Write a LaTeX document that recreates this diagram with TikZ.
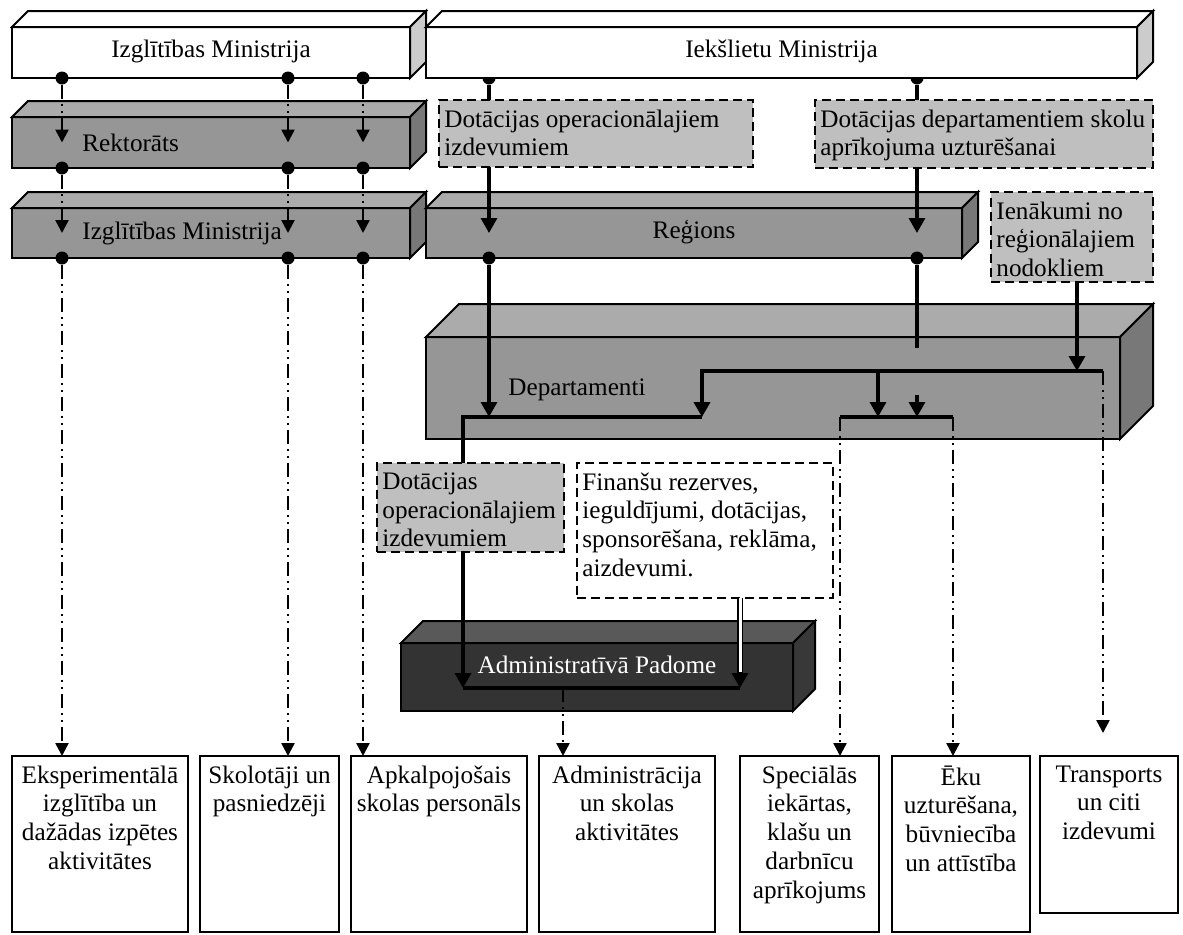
\documentclass[tikz,border=0pt]{standalone}
\usepackage{fontspec}
\setmainfont{Liberation Serif}
\usetikzlibrary{arrows.meta,fit}
\pgfdeclarelayer{bg}
\pgfsetlayers{bg,main}
\definecolor{slabfront}{gray}{0.59}
\definecolor{slabtop}{gray}{0.67}
\definecolor{slabside}{gray}{0.47}
\definecolor{whiteside}{gray}{0.8}
\definecolor{darkfront}{gray}{0.2}
\definecolor{darktop}{gray}{0.35}
\definecolor{darkside}{gray}{0.22}
\definecolor{notefill}{gray}{0.75}
% top and side face of a slab: node, depth, top colour, side colour
\newcommand{\slabfaces}[4]{%
	\filldraw[line width=1pt, fill=#3] (#1.north west) -- ++(#2,-#2) -- ([shift={(#2,-#2)}]#1.north east) -- (#1.north east) -- cycle;
	\filldraw[line width=1pt, fill=#4] (#1.north east) -- ++(#2,-#2) -- ([shift={(#2,-#2)}]#1.south east) -- (#1.south east) -- cycle;}

\begin{document}
\begin{tikzpicture}[x=0.5pt,y=-0.5pt,
	every node/.style={font=\fontsize{12.6}{14.4}\selectfont},
	slab/.style={draw, line width=1pt, inner sep=0pt, outer sep=0pt},
	note/.style={draw, line width=1pt, dash pattern=on 4.5pt off 2.5pt, fill=notefill, inner sep=0pt, outer sep=0pt},
	cell/.style={draw, line width=1pt, inner sep=0pt, outer sep=0pt},
	lefttext/.style={anchor=west, inner xsep=0pt},
	toptext/.style={anchor=north, inner ysep=4.8pt, execute at begin node=\strut},
	notetext/.style={anchor=north west, align=left, inner xsep=2.5pt, inner ysep=4.6pt, execute at begin node=\strut},
	celltext/.style={anchor=north, align=center, inner ysep=4.6pt, execute at begin node=\strut},
	dot/.style={circle, fill, inner sep=0pt, minimum size=6.5pt},
	dd/.style={line width=1.2pt, dash pattern=on 7pt off 2.5pt on 1pt off 2.5pt on 1pt off 2.5pt, -{Triangle[length=6.5pt,width=6.5pt]}},
	sline/.style={line width=1.6pt},
	sa/.style={line width=1.6pt, -{Triangle[length=7.5pt,width=8pt]}},
	bar/.style={line width=2.3pt}]
	\useasboundingbox (0,0) rectangle (1183,934);

	\begin{pgfonlayer}{bg}
		\node[dot] (s1) at (489,78) {};
		\node[dot] (s2) at (917,78) {};
	\end{pgfonlayer}

	\node[slab, fill=white, fit={(12,27) (410,78)}, label={[toptext]north:Izglītības Ministrija}] (IM) {};
	\slabfaces{IM}{16}{white}{whiteside}
	\node[slab, fill=white, fit={(426,27) (1137,78)}, label={[toptext]north:Iekšlietu Ministrija}] (IeM) {};
	\slabfaces{IeM}{16}{white}{whiteside}
	\node[slab, fill=slabfront, fit={(12,117) (410,168)}, label={[lefttext, xshift=35pt]west:Rektorāts}] (R) {};
	\slabfaces{R}{16}{slabtop}{slabside}
	\node[slab, fill=slabfront, fit={(12,208) (410,258)}, label={[lefttext, xshift=35pt]west:Izglītības Ministrija}] (IM2) {};
	\slabfaces{IM2}{16}{slabtop}{slabside}
	\node[slab, fill=slabfront, fit={(426,208) (962,258)}, label={[toptext]north:Reģions}] (Reg) {};
	\slabfaces{Reg}{16}{slabtop}{slabside}
	\node[slab, fill=slabfront, fit={(426,337) (1120,439)}, label={[lefttext, xshift=41pt, yshift=-1pt]west:Departamenti}] (Dep) {};
	\slabfaces{Dep}{33}{slabtop}{slabside}
	\node[slab, fill=darkfront, fit={(401,643) (793,711)}, label={[toptext, text=white]north:Administratīvā Padome}] (AP) {};
	\slabfaces{AP}{22}{darktop}{darkside}

	\node[note, fit={(439,100) (753,167)}, label={[notetext]north west:Dotācijas operacionālajiem\\izdevumiem}] (DO1) {};
	\node[note, fit={(815,100) (1153,168)}, label={[notetext]north west:Dotācijas departamentiem skolu\\aprīkojuma uzturēšanai}] (DD) {};
	\node[note, fit={(991,192) (1153,282)}, label={[notetext]north west:Ienākumi no\\reģionālajiem\\nodokliem}] (IN) {};
	\node[note, fit={(377,463) (564,552)}, label={[notetext]north west:Dotācijas\\operacionālajiem\\izdevumiem}] (DO2) {};
	\node[note, fill=white, fit={(577,463) (833,598)}, label={[notetext]north west:Finanšu rezerves,\\ieguldījumi, dotācijas,\\sponsorēšana, reklāma,\\aizdevumi.}] (FR) {};

	\node[cell, fit={(12,756) (188,932)}, label={[celltext]north:Eksperimentālā\\izglītība un\\dažādas izpētes\\aktivitātes}] (B1) {};
	\node[cell, fit={(200,756) (339,932)}, label={[celltext]north:Skolotāji un\\pasniedzēji}] (B2) {};
	\node[cell, fit={(351,756) (527,932)}, label={[celltext]north:Apkalpojošais\\skolas personāls}] (B3) {};
	\node[cell, fit={(539,756) (715,932)}, label={[celltext]north:Administrācija\\un skolas\\aktivitātes}] (B4) {};
	\node[cell, fit={(740,756) (879,932)}, label={[celltext]north:Speciālās\\iekārtas,\\klašu un\\darbnīcu\\aprīkojums}] (B5) {};
	\node[cell, fit={(892,756) (1030,932)}, label={[celltext]north:Ēku\\uzturēšana,\\būvniecība\\un attīstība}] (B6) {};
	\node[cell, fit={(1040,756) (1178,913)}, label={[celltext]north:Transports\\un citi\\izdevumi}] (B7) {};

	\foreach \x/\b in {62/B1, 288/B2, 363/B3} {
		\node[dot] (t\x) at (\x,78) {};
		\node[dot] (r\x) at (\x,168) {};
		\node[dot] (m\x) at (\x,258) {};
		\draw[dd] (t\x) -- (t\x |- R.center);
		\draw[dd] (r\x) -- (r\x |- IM2.center);
		\draw[dd] (m\x) -- (m\x |- \b.north);
	}

	\node[dot] (g1) at (489,258) {};
	\node[dot] (g2) at (917,258) {};
	\coordinate (ha1) at (463,417);
	\coordinate (ha2) at (702,417);
	\coordinate (hb1) at (702,371);
	\coordinate (hb2) at (1103,371);
	\coordinate (hk) at (878,371);
	\coordinate (hn) at (1077,371);
	\coordinate (hc1) at (840,417);
	\coordinate (hc2) at (953,417);
	\coordinate (ge) at (917,348);
	\coordinate (hm) at (917,395);
	\coordinate (hd1) at (463,688);
	\coordinate (hd2) at (740,688);
	\coordinate (hd3) at (563,688);

	\draw[sline] (s1) -- (s1 |- DO1.north);
	\draw[sa] (DO1.south -| s1) -- (s1 |- Reg.center);
	\draw[sline] (s2) -- (s2 |- DD.north);
	\draw[sa] (DD.south -| s2) -- (s2 |- Reg.center);
	\draw[sa] (g1) -- (g1 |- ha1);
	\draw[sline] (g2) -- (ge);
	\draw[sa] (hm) -- (hm |- hc1);
	\draw[sa] (IN.south -| hn) -- (hn);
	\draw[sa] (hk) -- (hk |- hc1);
	\draw[dd] (hc1) -- (hc1 |- B5.north);
	\draw[dd] (hc2) -- (hc2 |- B6.north);
	\draw[dd, shorten >=11.5pt] (hb2) -- (hb2 |- B7.north);
	\draw[bar] (DO2.north -| ha1) -- (ha1) -- (ha2);
	\draw[bar, -{Triangle[length=7.5pt,width=8pt]}] (hb2) -- (hb1) -- (ha2);
	\draw[bar] (hc1) -- (hc2);

	\draw[sa] (DO2.south -| hd1) -- (hd1);
	\draw[double, double distance=1.5pt, line width=0.8pt, shorten >=7pt] (FR.south -| hd2) -- (hd2);
	\draw[sa] ([yshift=8pt]hd2) -- (hd2);
	\draw[bar] (hd1) -- (hd2);
	\draw[dd] (hd3) -- (hd3 |- B4.north);
\end{tikzpicture}
\end{document}
